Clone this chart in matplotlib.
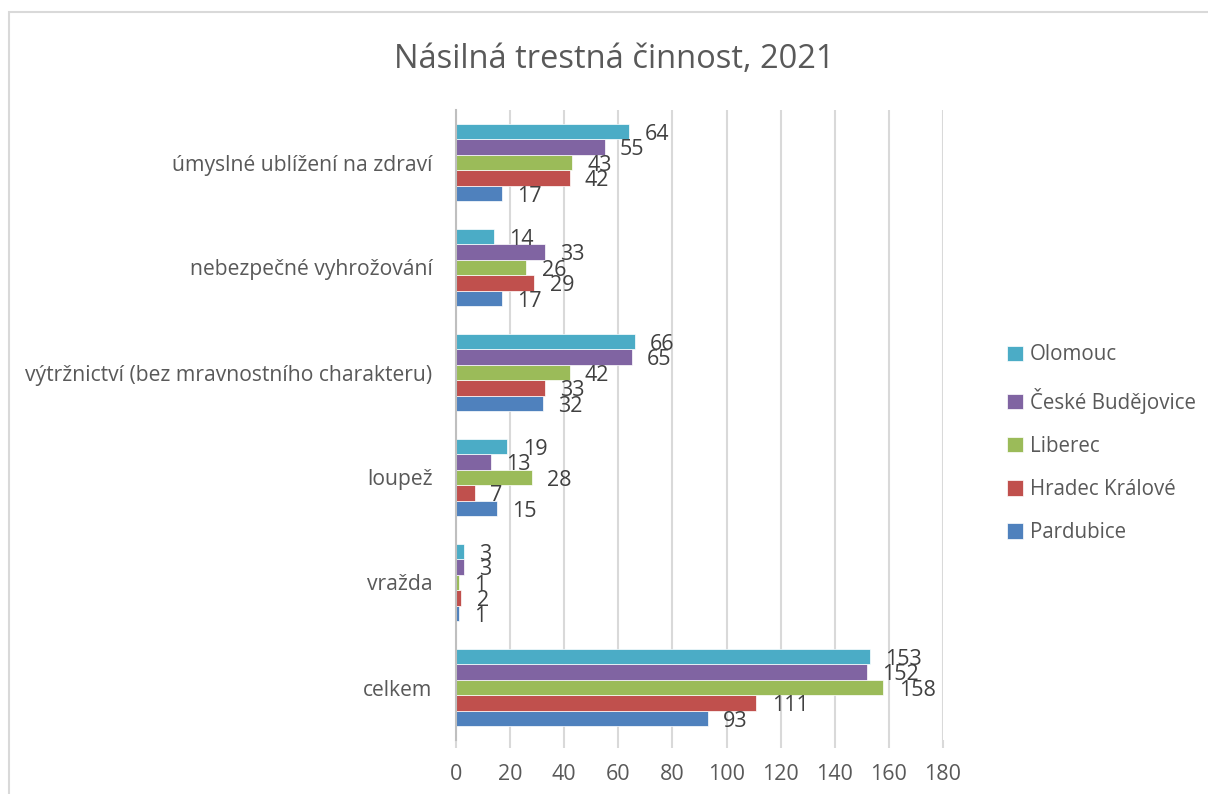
import matplotlib
matplotlib.use("Agg")
import matplotlib.pyplot as plt
from matplotlib.patches import Rectangle
import numpy as np

plt.rcParams['font.family'] = ['Open Sans', 'DejaVu Sans']

categories = ["celkem", "vražda", "loupež", "výtržnictví (bez mravnostního charakteru)",
              "nebezpečné vyhrožování", "úmyslné ublížení na zdraví"]
series_names = ["Pardubice", "Hradec Králové", "Liberec", "České Budějovice", "Olomouc"]
pardubice = [93, 1, 15, 32, 17, 17]
hradec = [111, 2, 7, 33, 29, 42]
liberec = [158, 1, 28, 42, 26, 43]
budejovice = [152, 3, 13, 65, 33, 55]
olomouc = [153, 3, 19, 66, 14, 64]
colors = ["#4F81BD", "#C0504D", "#9BBB59", "#8064A2", "#4BACC6"]
xticks = [0, 20, 40, 60, 80, 100, 120, 140, 160, 180]
title = "Násilná trestná činnost, 2021"

values = [pardubice, hradec, liberec, budejovice, olomouc]
txt = "#595959"

fig = plt.figure(figsize=(12.08, 7.94), dpi=100)
fig.add_artist(Rectangle((8.5 / 1208, -0.2), 1.5, 1.2 - 11.5 / 794,
                         transform=fig.transFigure, fill=False,
                         edgecolor="#D9D9D9", linewidth=1.5))
ax = fig.add_axes([456 / 1208, 54 / 794, 487 / 1208, 630 / 794])

h = 0.147
y = np.arange(len(categories))
for i, (name, vals, c) in enumerate(zip(series_names, values, colors)):
    pos = y + (i - 2) * h
    ax.barh(pos, vals, height=h, color=c, edgecolor="white", linewidth=0.5,
            label=name, zorder=3)
    for p, v in zip(pos, vals):
        ax.annotate(str(v), (v, p), xytext=(11, -2), textcoords="offset points",
                    ha="left", va="center", fontsize=15.5, color="#404040", zorder=4)

ax.set_xlim(0, 180)
ax.set_ylim(-0.5, 5.5)
ax.set_xticks(xticks)
ax.set_xticklabels([str(t) for t in xticks], fontsize=15.5, color=txt)
ax.set_yticks(y)
ax.set_yticklabels(categories, fontsize=15.2, color=txt)
ax.tick_params(axis="y", length=0, pad=17)
ax.tick_params(axis="x", length=6, color="#D9D9D9", pad=11, width=1.5)
ax.grid(axis="x", color="#D9D9D9", linewidth=1.5, zorder=0)
for s in ["top", "right", "bottom"]:
    ax.spines[s].set_visible(False)
ax.spines["left"].set_color("#BFBFBF")
ax.spines["left"].set_linewidth(1.5)
ax.spines["left"].set_zorder(5)

fig.text(614 / 1208, 1 - 59 / 794, title, ha="center", va="center",
         fontsize=23.5, color=txt)

handles, labels = ax.get_legend_handles_labels()
leg = fig.legend(handles[::-1], labels[::-1], loc="upper left",
                 bbox_to_anchor=(988 / 1208, 1 - 326 / 794), frameon=False,
                 fontsize=14.8, labelcolor=txt, handlelength=0.78, handleheight=0.78,
                 handletextpad=0.35, labelspacing=1.08)

fig.savefig("out.png", dpi=100)
